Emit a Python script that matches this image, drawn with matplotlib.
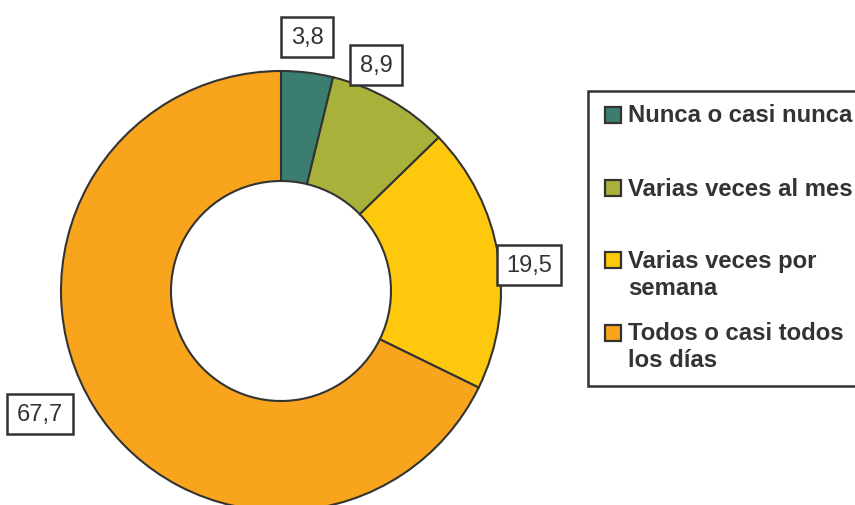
"""
Donut chart: frequency of an activity (percent of respondents)
"""
import matplotlib.pyplot as plt
from matplotlib.patches import Rectangle

# Data
categories = ["Nunca o casi nunca", "Varias veces al mes",
              "Varias veces por\nsemana", "Todos o casi todos\nlos días"]
values = [3.8, 8.9, 19.5, 67.7]
value_labels = ["3,8", "8,9", "19,5", "67,7"]
colors = ["#3B7E70", "#A8B23B", "#FEC90C", "#F8A51D"]

EDGE = "#333333"
W, H = 855, 506

# label box centres (pixel coords, y from top)
label_pos = [(307, 38), (376, 66), (529, 266), (40, 415)]
# legend layout (pixel coords, y from top)
legend_text_y = [115, 190, 275, 347]
legend_box_y = [115.5, 189, 261, 334]

plt.rcParams['font.family'] = ['Liberation Sans', 'DejaVu Sans']

fig = plt.figure(figsize=(W / 100, H / 100), dpi=100)
ax = fig.add_axes([0, 0, 1, 1])

center = (281, H - 292)
radius = 220
ax.pie(values, colors=colors, startangle=90, counterclock=False,
       radius=radius, center=center,
       wedgeprops=dict(width=110, edgecolor=EDGE, linewidth=1.5))

for (x, y), txt in zip(label_pos, value_labels):
    ax.text(x, H - y, txt, ha='center', va='center', fontsize=17,
            color=EDGE,
            bbox=dict(boxstyle='square,pad=0.4', facecolor='white',
                      edgecolor=EDGE, linewidth=1.8))

# legend
ax.add_patch(Rectangle((588, H - 387), 320, 295, facecolor='white',
                       edgecolor=EDGE, linewidth=1.8, clip_on=False))
for cat, col, ty, by in zip(categories, colors, legend_text_y, legend_box_y):
    ax.add_patch(Rectangle((605, H - by - 8), 16, 16, facecolor=col,
                           edgecolor=EDGE, linewidth=1.6))
    ax.text(628, H - ty, cat, ha='left', va='center', fontsize=17.2,
            fontweight='bold', color=EDGE, linespacing=1.2)

ax.set_xlim(0, W)
ax.set_ylim(0, H)
ax.set_aspect('auto')
ax.axis('off')

plt.savefig('out.png', dpi=100)
